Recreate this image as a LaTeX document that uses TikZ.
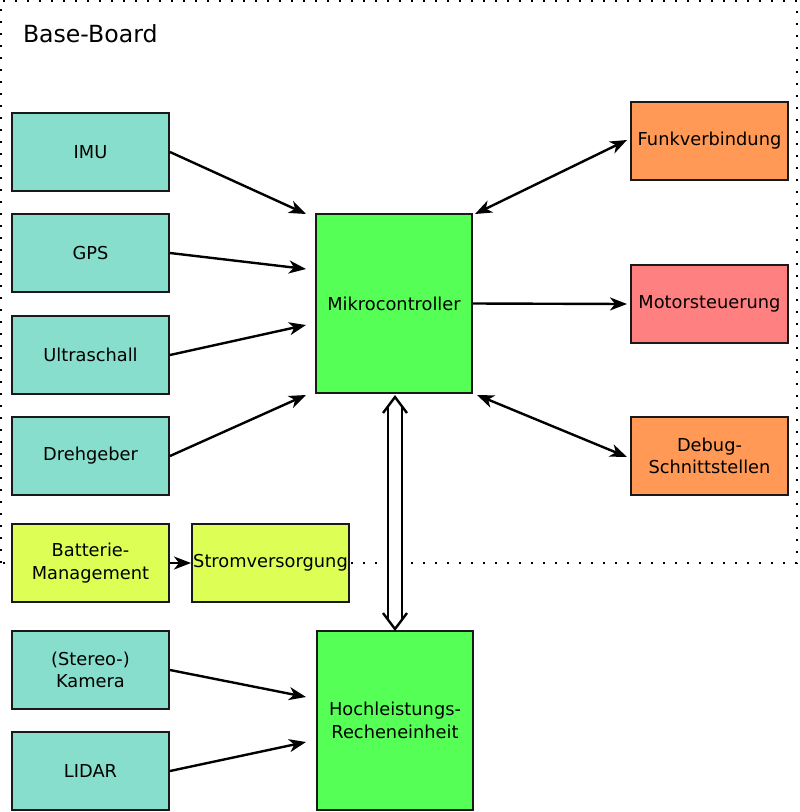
\documentclass[tikz,border=0pt]{standalone}
\usepackage{fontspec}
\setmainfont{DejaVu Sans}
\usetikzlibrary{arrows.meta,calc}
\definecolor{teal1}{HTML}{87DECD}
\definecolor{green1}{HTML}{55FF55}
\definecolor{yellow1}{HTML}{DDFF55}
\definecolor{orange1}{HTML}{FF9955}
\definecolor{pink1}{HTML}{FF8080}
\tikzset{
  box/.style={draw=black!90, line width=2pt, inner sep=0pt, minimum width=157pt, minimum height=78pt, align=center, font=\fontsize{17.8}{22.5}\selectfont},
  bigbox/.style={box, minimum width=156pt, minimum height=179pt},
  conn/.style={line width=2.4pt, -{Stealth[length=17pt, width=13pt, inset=5pt]}},
  biconn/.style={line width=2.4pt, {Stealth[length=17pt, width=13pt, inset=5pt]}-{Stealth[length=17pt, width=13pt, inset=5pt]}},
  boardline/.style={line width=2.3pt, dash pattern=on 2pt off 10pt},
  dline/.style={line width=2.4pt, line join=miter}
}
\begin{document}
\begin{tikzpicture}[x=1pt, y=-1pt]
\useasboundingbox (0,0) rectangle (800,812);
% board outline
\draw[boardline] (1,563) -- (1,1) -- (797,1) -- (797,563) -- cycle;
\node[anchor=base west, font=\fontsize{23.6}{28}\selectfont] (title) at (19.5,42) {Base-Board};
% sensors
\node[box, fill=teal1] (imu) at (90.5,152) {IMU};
\node[box, fill=teal1] (gps) at (90.5,253) {GPS};
\node[box, fill=teal1] (us) at (90.5,355) {Ultraschall};
\node[box, fill=teal1] (dg) at (90.5,456) {Drehgeber};
\node[box, fill=yellow1] (bm) at (90.5,563) {Batterie-\\Management};
\node[box, fill=yellow1] (sv) at (270.5,563) {Stromversorgung};
\node[box, fill=teal1] (kam) at (90.5,670) {(Stereo-)\\Kamera};
\node[box, fill=teal1] (lid) at (90.5,771) {LIDAR};
% central
\node[bigbox, fill=green1] (mc) at (394,303.5) {Mikrocontroller};
\node[bigbox, fill=green1] (hr) at (395,720.5) {Hochleistungs-\\Recheneinheit};
% right
\node[box, fill=orange1] (fk) at (709.5,141) {Funkverbindung};
\node[box, fill=pink1] (ms) at (709.5,304) {Motorsteuerung};
\node[box, fill=orange1] (db) at (709.5,456) {Debug-\\Schnittstellen};
% arrow end points
\coordinate (mcA) at ($(mc.north west)+(-9,1)$);
\coordinate (mcB) at ($(mc.north west)+(-9,56)$);
\coordinate (mcC) at ($(mc.north west)+(-9,112)$);
\coordinate (mcD) at ($(mc.south west)+(-9,1)$);
\coordinate (hrA) at ($(hr.north west)+(-10,67)$);
\coordinate (hrB) at ($(hr.north west)+(-10,112)$);
\coordinate (mcNE) at ($(mc.north east)+(2,1)$);
\coordinate (mcSE) at ($(mc.south east)+(4,1)$);
\coordinate (fkW) at ($(fk.west)+(-3,-1)$);
\coordinate (dbW) at ($(db.west)+(-3,1)$);
\draw[conn] (imu.east) -- (mcA);
\draw[conn] (gps.east) -- (mcB);
\draw[conn] (us.east) -- (mcC);
\draw[conn] (dg.east) -- (mcD);
\draw[conn] (kam.east) -- (hrA);
\draw[conn] (lid.east) -- (hrB);
\draw[conn] (bm.east) -- (sv.west);
\draw[biconn] (mcNE) -- (fkW);
\draw[conn] (mc.east) -- ($(ms.west)+(-3,0)$);
\draw[biconn] (mcSE) -- (dbW);
% double (bus) arrow between Mikrocontroller and Hochleistungs-Recheneinheit
\coordinate (dt) at ($(mc.south)+(1,3)$);
\coordinate (dbt) at ($(hr.north)+(0,-1)$);
\fill[white] ($(dt)+(-7,8)$) -- (dt) -- ($(dt)+(7,8)$) -- ($(dbt)+(7,-8)$) -- (dbt) -- ($(dbt)+(-7,-8)$) -- cycle;
\draw[dline] ($(dt)+(-12,16)$) -- (dt) -- ($(dt)+(12,16)$);
\draw[dline] ($(dbt)+(-12,-16)$) -- (dbt) -- ($(dbt)+(12,-16)$);
\draw[dline] ($(dt)+(-7,9.3)$) -- ($(dbt)+(-7,-9.3)$);
\draw[dline] ($(dt)+(7,9.3)$) -- ($(dbt)+(7,-9.3)$);
\end{tikzpicture}
\end{document}
